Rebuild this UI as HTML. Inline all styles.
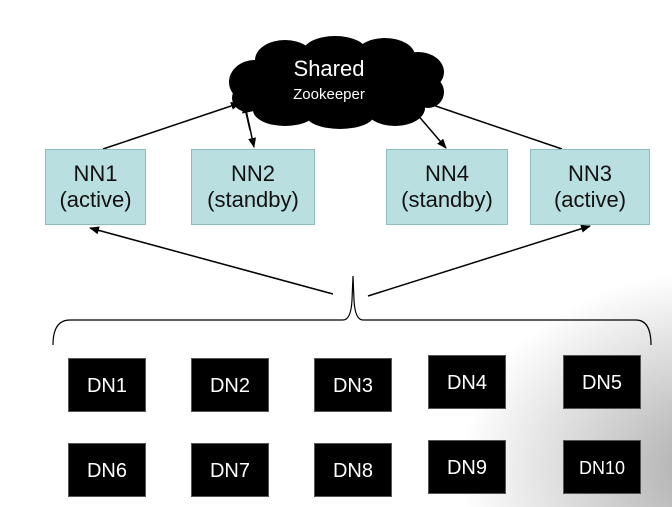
<!DOCTYPE html>
<html><head><style>
body{margin:0;width:672px;height:507px;overflow:hidden;background:#fff;font-family:"Liberation Sans",sans-serif;position:relative}
.bg{position:absolute;left:0;top:0;width:672px;height:507px;background:radial-gradient(ellipse 260px 200px at 720px 470px,rgba(110,110,110,0.6),rgba(255,255,255,0) 100%)}
.nn{position:absolute;top:149px;height:76px;background:#b9dfe1;border:1px solid #8fbcbf;box-sizing:border-box;text-align:center;font-size:22px;line-height:26px;padding-top:11px;color:#111}
.dn{position:absolute;width:78px;height:54px;background:#000;color:#fff;font-size:20px;line-height:54px;text-align:center;border:1px solid #555;box-sizing:border-box}
</style></head><body>
<div class="bg"></div>
<svg width="672" height="507" style="position:absolute;left:0;top:0">
<defs><marker id="a" markerWidth="10" markerHeight="8" refX="9" refY="4" orient="auto" markerUnits="userSpaceOnUse"><path d="M0,0 L10,4 L0,8 z" fill="#000"/></marker></defs>
<g fill="#000">
<ellipse cx="336" cy="84" rx="100" ry="36"/>
<ellipse cx="255" cy="82" rx="26" ry="22"/><ellipse cx="285" cy="60" rx="30" ry="20"/><ellipse cx="335" cy="52" rx="32" ry="16"/><ellipse cx="385" cy="56" rx="30" ry="18"/><ellipse cx="418" cy="72" rx="26" ry="20"/><ellipse cx="428" cy="92" rx="16" ry="16"/><ellipse cx="395" cy="108" rx="30" ry="18"/><ellipse cx="340" cy="115" rx="34" ry="14"/><ellipse cx="285" cy="110" rx="32" ry="16"/><ellipse cx="248" cy="98" rx="16" ry="14"/>
</g>
<g stroke="#000" stroke-width="1.5" fill="none">
<line x1="103" y1="149" x2="240" y2="103" marker-end="url(#a)"/>
<line x1="246" y1="110" x2="254" y2="147" marker-end="url(#a)"/>
<line x1="250" y1="130" x2="244" y2="104" marker-end="url(#a)"/>
<line x1="410" y1="106" x2="446" y2="148" marker-end="url(#a)"/>
<line x1="415" y1="99" x2="562" y2="149"/>
<line x1="333" y1="294" x2="90" y2="228" marker-end="url(#a)"/>
<line x1="368" y1="296" x2="590" y2="226" marker-end="url(#a)"/>
<path d="M53,345 Q53,320 70,320 L343,320 Q351,320 352,300 L353,276 M353,276 L354,300 Q355,320 363,320 L636,320 Q651,320 651,345" stroke-width="1.2"/>
</g>
<text x="329" y="76" fill="#fff" font-size="22" text-anchor="middle" font-family="Liberation Sans">Shared</text>
<text x="329" y="99" fill="#fff" font-size="15" text-anchor="middle" font-family="Liberation Sans">Zookeeper</text>
</svg>
<div class="nn" style="left:45px;width:101px">NN1<br>(active)</div>
<div class="nn" style="left:191px;width:124px">NN2<br>(standby)</div>
<div class="nn" style="left:386px;width:122px">NN4<br>(standby)</div>
<div class="nn" style="left:530px;width:120px">NN3<br>(active)</div>
<div class="dn" style="left:68px;top:358px">DN1</div>
<div class="dn" style="left:191px;top:358px">DN2</div>
<div class="dn" style="left:314px;top:358px">DN3</div>
<div class="dn" style="left:428px;top:355px">DN4</div>
<div class="dn" style="left:563px;top:355px">DN5</div>
<div class="dn" style="left:68px;top:443px">DN6</div>
<div class="dn" style="left:191px;top:443px">DN7</div>
<div class="dn" style="left:314px;top:443px">DN8</div>
<div class="dn" style="left:428px;top:440px">DN9</div>
<div class="dn" style="left:563px;top:440px;font-size:18px">DN10</div>
</body></html>
